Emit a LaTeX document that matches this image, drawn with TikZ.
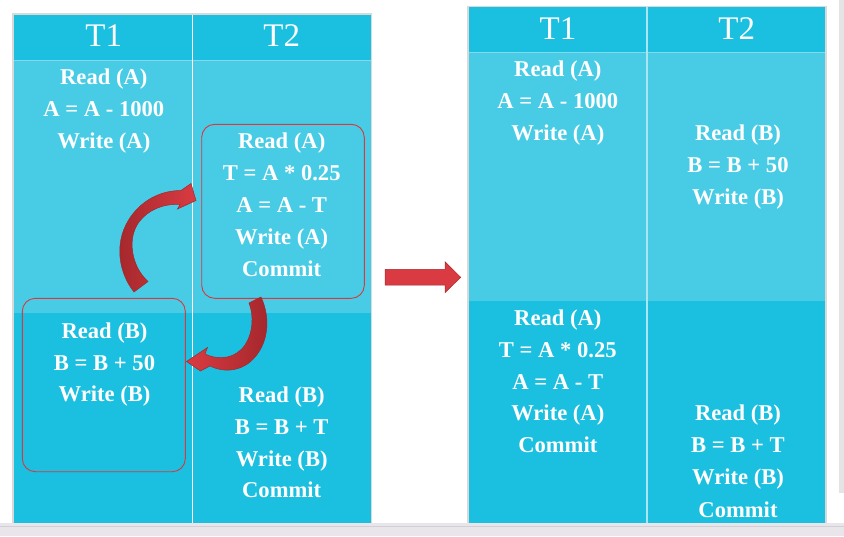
\documentclass[tikz,border=0pt]{standalone}
\usepackage{fontspec}
\setmainfont{Liberation Serif}
\definecolor{hdr}{HTML}{1BBFDF}
\definecolor{lite}{HTML}{48CCE5}
\definecolor{boxred}{HTML}{D8383F}
\definecolor{arrlight}{HTML}{DA3B42}
\definecolor{arrdark}{HTML}{A2272B}
\definecolor{arredge}{HTML}{A3282D}
\definecolor{bandgray}{HTML}{E8E6EB}
\definecolor{bandline}{HTML}{D2D0D5}
\definecolor{stripgray}{HTML}{E4E4E4}
\definecolor{shadowgray}{HTML}{D9D9D9}
\definecolor{hline}{HTML}{80D9EC}
\definecolor{rdiv}{HTML}{A8E6F2}
\begin{document}
\begin{tikzpicture}[x=1pt,y=-1pt,
  txt/.style={text=white,font=\fontsize{22.6}{26}\selectfont\bfseries,anchor=base,inner sep=0pt},
  hd/.style={text=white,font=\fontsize{33}{38}\selectfont,anchor=base,inner sep=0pt},
  redbox/.style={draw=boxred,line width=0.9pt,rounded corners=13pt,inner sep=0pt},
  tshadow/.style={draw=shadowgray,line width=1.6pt},
  blockarrow/.style={draw=arredge,line width=0.5pt}]
\useasboundingbox (0,0) rectangle (844,536);
\fill[white] (0,0) rectangle (844,536);
% ---------- left table ----------
\draw[tshadow] (13.2,14.2) rectangle (371.3,522.7);
\fill[hdr]  (14,15) rectangle (370.5,60);
\fill[lite] (14,60) rectangle (370.5,313);
\fill[hdr]  (14,313) rectangle (370.5,522.7);
\draw[hline,line width=1pt] (14,60) -- (370.5,60);
\draw[white,line width=1.2pt] (192.3,15) -- (192.3,522.7);
% ---------- right table ----------
\draw[tshadow] (467.7,6.5) rectangle (825.8,522.7);
\fill[hdr]  (468.5,7.3) rectangle (825,52);
\fill[lite] (468.5,52) rectangle (825,301);
\fill[hdr]  (468.5,301) rectangle (825,522.7);
\draw[hline,line width=1pt] (468.5,52) -- (825,52);
\draw[rdiv,line width=1.2pt] (647,7.3) -- (647,522.7);
% ---------- page edges ----------
\fill[bandgray] (0,522.7) rectangle (844,536);
\draw[bandline,line width=1pt] (0,526) -- (844,526);
\fill[stripgray] (838.7,0) rectangle (844,493);
% ---------- red boxes ----------
\node[redbox,minimum width=162.6pt,minimum height=174pt] (boxA) at (283,211.3) {};
\node[redbox,minimum width=163pt,minimum height=173.4pt] (boxB) at (103.8,385) {};
% ---------- left table text ----------
\node[hd] (LT1) at (103.7,46.7) {T1};
\node[hd] (LT2) at (281.7,46.7) {T2};
\node[txt] (L1a) at (103.8,84) {Read (A)};
\node[txt] (L1b) at (103.8,116) {A = A - 1000};
\node[txt] (L1c) at (103.8,148) {Write (A)};
\node[txt] (L2a) at (281.7,148) {Read (A)};
\node[txt] (L2b) at (281.7,180) {T = A * 0.25};
\node[txt] (L2c) at (281.7,212) {A = A - T};
\node[txt] (L2d) at (281.7,244) {Write (A)};
\node[txt] (L2e) at (281.7,276) {Commit};
\node[txt] (L3a) at (104.5,338.3) {Read (B)};
\node[txt] (L3b) at (104.5,370) {B = B + 50};
\node[txt] (L3c) at (104.5,401.7) {Write (B)};
\node[txt] (L4a) at (281.7,402.7) {Read (B)};
\node[txt] (L4b) at (281.7,434.3) {B = B + T};
\node[txt] (L4c) at (281.7,466) {Write (B)};
\node[txt] (L4d) at (281.7,497.5) {Commit};
% ---------- right table text ----------
\node[hd] (RT1) at (558,39.3) {T1};
\node[hd] (RT2) at (736.7,39.3) {T2};
\node[txt] (R1a) at (557.8,76.7) {Read (A)};
\node[txt] (R1b) at (557.8,108.7) {A = A - 1000};
\node[txt] (R1c) at (557.8,140.7) {Write (A)};
\node[txt] (R2a) at (738,140.7) {Read (B)};
\node[txt] (R2b) at (738,172.5) {B = B + 50};
\node[txt] (R2c) at (738,204.3) {Write (B)};
\node[txt] (R3a) at (557.8,325) {Read (A)};
\node[txt] (R3b) at (557.8,357) {T = A * 0.25};
\node[txt] (R3c) at (557.8,389) {A = A - T};
\node[txt] (R3d) at (557.8,420.8) {Write (A)};
\node[txt] (R3e) at (557.8,452.7) {Commit};
\node[txt] (R4a) at (738,420.8) {Read (B)};
\node[txt] (R4b) at (738,452.7) {B = B + T};
\node[txt] (R4c) at (738,484.5) {Write (B)};
\node[txt] (R4d) at (738,517.3) {Commit};
% ---------- curved block arrows ----------
\shadedraw[blockarrow,left color=arrdark,right color=arrlight]
  (134,292) .. controls (118,272) and (113,240) .. (132,215)
  .. controls (144,199) and (162,190.5) .. (181,190.5)
  -- (191,183.5) -- (196,200.5) -- (177.5,209) -- (180,204.5)
  .. controls (163,203.5) and (148,210) .. (139,222)
  .. controls (127,238) and (131,266) .. (148,281.5) -- cycle;
\shadedraw[blockarrow,left color=arrlight,right color=arrdark]
  (261,297) .. controls (271,318) and (269,346) .. (250,362)
  .. controls (238,372) and (222,372) .. (210,366)
  -- (200.5,371) -- (186.5,361.5) -- (207.5,347.5) -- (205,354)
  .. controls (220,361) and (236,358) .. (245,345)
  .. controls (253,333) and (254,316) .. (249,303) -- cycle;
% ---------- straight block arrow ----------
\filldraw[blockarrow,fill=arrlight]
  (385,269.3) -- (445,269.3) -- (445,261.7) -- (460.7,277.3)
  -- (445,292.7) -- (445,285) -- (385,285) -- cycle;
\end{tikzpicture}
\end{document}
